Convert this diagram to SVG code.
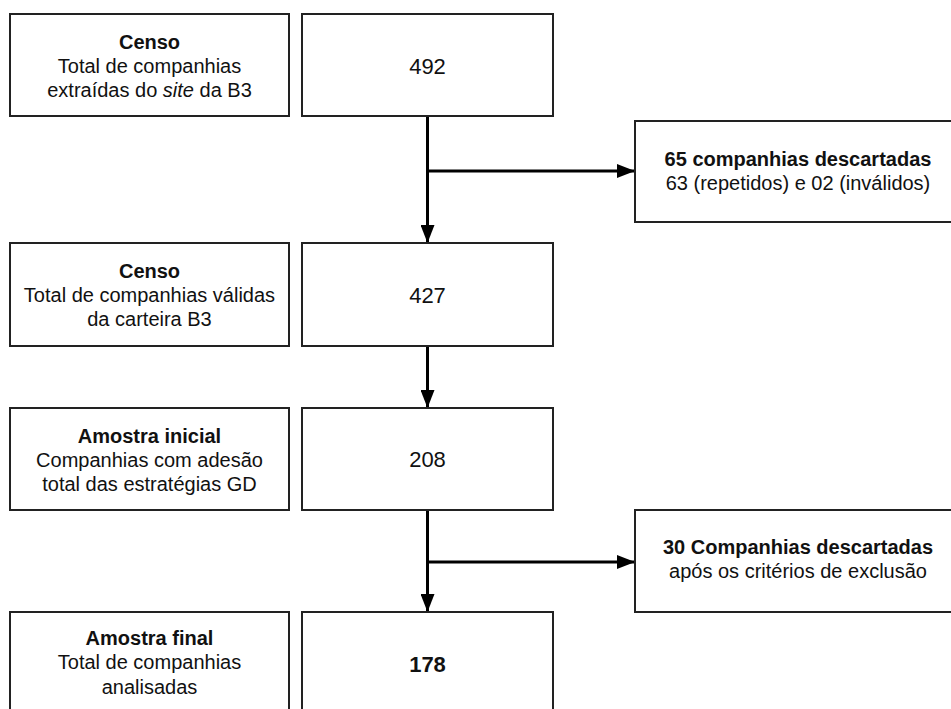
<svg xmlns="http://www.w3.org/2000/svg" width="951" height="709" viewBox="0 0 951 709">
<defs>
<marker id="ah" markerWidth="18" markerHeight="14" refX="18" refY="7" orient="auto" markerUnits="userSpaceOnUse">
<path d="M0,0 L18,7 L0,14 Z" fill="#000"/>
</marker>
<style>
.box{fill:#fff;stroke:#222;stroke-width:2}
text{font-family:"Liberation Sans",Arial,sans-serif;font-size:20px;fill:#111;text-anchor:middle}
.b{font-weight:bold}
.num{font-size:22px}
.ln{fill:none;stroke:#000;stroke-width:3}
</style>
</defs>
<rect width="951" height="709" fill="#fff"/>
<g id="connectors">
<line class="ln" x1="427.5" y1="116" x2="427.5" y2="243" marker-end="url(#ah)"/>
<line class="ln" x1="427.5" y1="171" x2="635" y2="171" marker-end="url(#ah)"/>
<line class="ln" x1="427.5" y1="346" x2="427.5" y2="408" marker-end="url(#ah)"/>
<line class="ln" x1="427.5" y1="510" x2="427.5" y2="612" marker-end="url(#ah)"/>
<line class="ln" x1="427.5" y1="562" x2="635" y2="562" marker-end="url(#ah)"/>
</g>
<g id="censo1">
<rect class="box" x="10" y="14" width="279" height="102"/>
<text x="149.5" y="49" class="b">Censo</text>
<text x="149.5" y="73">Total de companhias</text>
<text x="149.5" y="97">extraídas do <tspan font-style="italic">site</tspan> da B3</text>
</g>
<g id="n492">
<rect class="box" x="302" y="14" width="251" height="102"/>
<text x="427.5" y="74" class="num">492</text>
</g>
<g id="desc65">
<rect class="box" x="635" y="121" width="330" height="101"/>
<text x="798" y="166" class="b">65 companhias descartadas</text>
<text x="798" y="190">63 (repetidos) e 02 (inválidos)</text>
</g>
<g id="censo2">
<rect class="box" x="10" y="243" width="279" height="103"/>
<text x="149.5" y="278" class="b">Censo</text>
<text x="149.5" y="302">Total de companhias válidas</text>
<text x="149.5" y="326">da carteira B3</text>
</g>
<g id="n427">
<rect class="box" x="302" y="243" width="251" height="103"/>
<text x="427.5" y="303" class="num">427</text>
</g>
<g id="amostra1">
<rect class="box" x="10" y="408" width="279" height="102"/>
<text x="149.5" y="443" class="b">Amostra inicial</text>
<text x="149.5" y="467">Companhias com adesão</text>
<text x="149.5" y="491">total das estratégias GD</text>
</g>
<g id="n208">
<rect class="box" x="302" y="408" width="251" height="102"/>
<text x="427.5" y="467" class="num">208</text>
</g>
<g id="desc30">
<rect class="box" x="635" y="510" width="330" height="102"/>
<text x="798" y="554" class="b">30 Companhias descartadas</text>
<text x="798" y="578">após os critérios de exclusão</text>
</g>
<g id="amostra2">
<rect class="box" x="10" y="612" width="279" height="110"/>
<text x="149.5" y="645" class="b">Amostra final</text>
<text x="149.5" y="669">Total de companhias</text>
<text x="149.5" y="694">analisadas</text>
</g>
<g id="n178">
<rect class="box" x="302" y="612" width="251" height="110"/>
<text x="427.5" y="672" class="num b">178</text>
</g>
</svg>
